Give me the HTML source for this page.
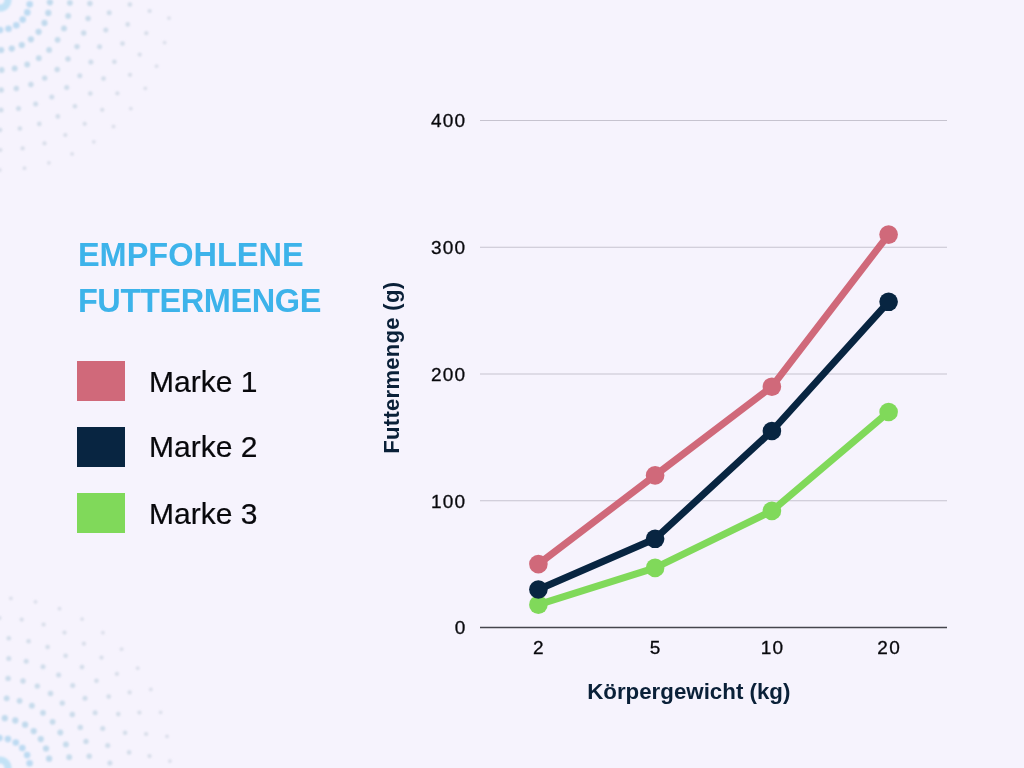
<!DOCTYPE html>
<html><head><meta charset="utf-8"><title>Empfohlene Futtermenge</title>
<style>html,body{margin:0;padding:0;background:#F6F3FD;}svg{display:block;will-change:transform;}</style></head>
<body>
<svg width="1024" height="768" viewBox="0 0 1024 768">
<rect width="1024" height="768" fill="#F6F3FD"/>
<defs><filter id="bl" x="-5%" y="-5%" width="110%" height="110%"><feGaussianBlur stdDeviation="0.85"/></filter></defs>
<g filter="url(#bl)"><circle cx="29.7" cy="4.2" r="3.3" fill="#A9D2EE" fill-opacity="0.75"/>
<circle cx="27.3" cy="12.4" r="3.3" fill="#A9D2EE" fill-opacity="0.75"/>
<circle cx="22.7" cy="19.6" r="3.3" fill="#A9D2EE" fill-opacity="0.75"/>
<circle cx="16.3" cy="25.2" r="3.3" fill="#A9D2EE" fill-opacity="0.75"/>
<circle cx="8.5" cy="28.8" r="3.3" fill="#A9D2EE" fill-opacity="0.75"/>
<circle cx="0.0" cy="30.0" r="3.3" fill="#A9D2EE" fill-opacity="0.75"/>
<circle cx="49.9" cy="2.3" r="3.1" fill="#AACFE6" fill-opacity="0.7"/>
<circle cx="48.3" cy="12.9" r="3.1" fill="#AACFE6" fill-opacity="0.7"/>
<circle cx="44.5" cy="22.9" r="3.1" fill="#AACFE6" fill-opacity="0.7"/>
<circle cx="38.6" cy="31.8" r="3.1" fill="#AACFE6" fill-opacity="0.7"/>
<circle cx="30.9" cy="39.3" r="3.1" fill="#AACFE6" fill-opacity="0.7"/>
<circle cx="21.8" cy="45.0" r="3.1" fill="#AACFE6" fill-opacity="0.7"/>
<circle cx="11.8" cy="48.6" r="3.1" fill="#AACFE6" fill-opacity="0.7"/>
<circle cx="1.1" cy="50.0" r="3.1" fill="#AACFE6" fill-opacity="0.7"/>
<circle cx="69.9" cy="2.8" r="2.9" fill="#ADCEE2" fill-opacity="0.66"/>
<circle cx="68.2" cy="15.9" r="2.9" fill="#ADCEE2" fill-opacity="0.66"/>
<circle cx="64.0" cy="28.4" r="2.9" fill="#ADCEE2" fill-opacity="0.66"/>
<circle cx="57.6" cy="39.8" r="2.9" fill="#ADCEE2" fill-opacity="0.66"/>
<circle cx="49.1" cy="49.9" r="2.9" fill="#ADCEE2" fill-opacity="0.66"/>
<circle cx="38.8" cy="58.2" r="2.9" fill="#ADCEE2" fill-opacity="0.66"/>
<circle cx="27.2" cy="64.5" r="2.9" fill="#ADCEE2" fill-opacity="0.66"/>
<circle cx="14.7" cy="68.4" r="2.9" fill="#ADCEE2" fill-opacity="0.66"/>
<circle cx="1.6" cy="70.0" r="2.9" fill="#ADCEE2" fill-opacity="0.66"/>
<circle cx="89.9" cy="3.5" r="2.7" fill="#B0CDDF" fill-opacity="0.62"/>
<circle cx="88.1" cy="18.5" r="2.7" fill="#B0CDDF" fill-opacity="0.62"/>
<circle cx="83.7" cy="33.0" r="2.7" fill="#B0CDDF" fill-opacity="0.62"/>
<circle cx="77.0" cy="46.6" r="2.7" fill="#B0CDDF" fill-opacity="0.62"/>
<circle cx="68.0" cy="58.9" r="2.7" fill="#B0CDDF" fill-opacity="0.62"/>
<circle cx="57.2" cy="69.5" r="2.7" fill="#B0CDDF" fill-opacity="0.62"/>
<circle cx="44.7" cy="78.1" r="2.7" fill="#B0CDDF" fill-opacity="0.62"/>
<circle cx="30.9" cy="84.5" r="2.7" fill="#B0CDDF" fill-opacity="0.62"/>
<circle cx="16.3" cy="88.5" r="2.7" fill="#B0CDDF" fill-opacity="0.62"/>
<circle cx="1.2" cy="90.0" r="2.7" fill="#B0CDDF" fill-opacity="0.62"/>
<circle cx="109.2" cy="12.8" r="2.5" fill="#B3CCDC" fill-opacity="0.58"/>
<circle cx="105.8" cy="30.1" r="2.5" fill="#B3CCDC" fill-opacity="0.58"/>
<circle cx="99.6" cy="46.7" r="2.5" fill="#B3CCDC" fill-opacity="0.58"/>
<circle cx="90.9" cy="62.0" r="2.5" fill="#B3CCDC" fill-opacity="0.58"/>
<circle cx="79.8" cy="75.7" r="2.5" fill="#B3CCDC" fill-opacity="0.58"/>
<circle cx="66.7" cy="87.5" r="2.5" fill="#B3CCDC" fill-opacity="0.58"/>
<circle cx="51.8" cy="97.0" r="2.5" fill="#B3CCDC" fill-opacity="0.58"/>
<circle cx="35.6" cy="104.1" r="2.5" fill="#B3CCDC" fill-opacity="0.58"/>
<circle cx="18.5" cy="108.4" r="2.5" fill="#B3CCDC" fill-opacity="0.58"/>
<circle cx="1.0" cy="110.0" r="2.5" fill="#B3CCDC" fill-opacity="0.58"/>
<circle cx="129.9" cy="4.5" r="2.3" fill="#B6CAD8" fill-opacity="0.54"/>
<circle cx="127.7" cy="24.4" r="2.3" fill="#B6CAD8" fill-opacity="0.54"/>
<circle cx="122.5" cy="43.6" r="2.3" fill="#B6CAD8" fill-opacity="0.54"/>
<circle cx="114.4" cy="61.8" r="2.3" fill="#B6CAD8" fill-opacity="0.54"/>
<circle cx="103.5" cy="78.6" r="2.3" fill="#B6CAD8" fill-opacity="0.54"/>
<circle cx="90.3" cy="93.5" r="2.3" fill="#B6CAD8" fill-opacity="0.54"/>
<circle cx="74.9" cy="106.2" r="2.3" fill="#B6CAD8" fill-opacity="0.54"/>
<circle cx="57.8" cy="116.4" r="2.3" fill="#B6CAD8" fill-opacity="0.54"/>
<circle cx="39.3" cy="123.9" r="2.3" fill="#B6CAD8" fill-opacity="0.54"/>
<circle cx="19.9" cy="128.5" r="2.3" fill="#B6CAD8" fill-opacity="0.54"/>
<circle cx="0.0" cy="130.0" r="2.3" fill="#B6CAD8" fill-opacity="0.54"/>
<circle cx="149.6" cy="11.0" r="2.1" fill="#B9C8D5" fill-opacity="0.5"/>
<circle cx="146.3" cy="33.2" r="2.1" fill="#B9C8D5" fill-opacity="0.5"/>
<circle cx="139.7" cy="54.6" r="2.1" fill="#B9C8D5" fill-opacity="0.5"/>
<circle cx="130.0" cy="74.8" r="2.1" fill="#B9C8D5" fill-opacity="0.5"/>
<circle cx="117.4" cy="93.3" r="2.1" fill="#B9C8D5" fill-opacity="0.5"/>
<circle cx="102.2" cy="109.8" r="2.1" fill="#B9C8D5" fill-opacity="0.5"/>
<circle cx="84.7" cy="123.8" r="2.1" fill="#B9C8D5" fill-opacity="0.5"/>
<circle cx="65.3" cy="135.0" r="2.1" fill="#B9C8D5" fill-opacity="0.5"/>
<circle cx="44.5" cy="143.3" r="2.1" fill="#B9C8D5" fill-opacity="0.5"/>
<circle cx="22.6" cy="148.3" r="2.1" fill="#B9C8D5" fill-opacity="0.5"/>
<circle cx="0.3" cy="150.0" r="2.1" fill="#B9C8D5" fill-opacity="0.5"/>
<circle cx="169.0" cy="18.1" r="1.9" fill="#BCC6D3" fill-opacity="0.46"/>
<circle cx="164.6" cy="42.6" r="1.9" fill="#BCC6D3" fill-opacity="0.46"/>
<circle cx="156.6" cy="66.2" r="1.9" fill="#BCC6D3" fill-opacity="0.46"/>
<circle cx="145.3" cy="88.3" r="1.9" fill="#BCC6D3" fill-opacity="0.46"/>
<circle cx="130.8" cy="108.6" r="1.9" fill="#BCC6D3" fill-opacity="0.46"/>
<circle cx="113.5" cy="126.5" r="1.9" fill="#BCC6D3" fill-opacity="0.46"/>
<circle cx="93.8" cy="141.8" r="1.9" fill="#BCC6D3" fill-opacity="0.46"/>
<circle cx="72.1" cy="153.9" r="1.9" fill="#BCC6D3" fill-opacity="0.46"/>
<circle cx="48.9" cy="162.8" r="1.9" fill="#BCC6D3" fill-opacity="0.46"/>
<circle cx="24.5" cy="168.2" r="1.9" fill="#BCC6D3" fill-opacity="0.46"/>
<circle cx="-0.3" cy="170.0" r="1.9" fill="#BCC6D3" fill-opacity="0.46"/>
<circle cx="0" cy="0" r="8" fill="none" stroke="#C3E2F6" stroke-width="7"/></g>
<g filter="url(#bl)"><circle cx="29.6" cy="763.3" r="3.3" fill="#A9D2EE" fill-opacity="0.75"/>
<circle cx="27.1" cy="755.1" r="3.3" fill="#A9D2EE" fill-opacity="0.75"/>
<circle cx="22.3" cy="748.0" r="3.3" fill="#A9D2EE" fill-opacity="0.75"/>
<circle cx="15.8" cy="742.5" r="3.3" fill="#A9D2EE" fill-opacity="0.75"/>
<circle cx="7.9" cy="739.1" r="3.3" fill="#A9D2EE" fill-opacity="0.75"/>
<circle cx="-0.6" cy="738.0" r="3.3" fill="#A9D2EE" fill-opacity="0.75"/>
<circle cx="49.1" cy="758.7" r="3.1" fill="#AACFE6" fill-opacity="0.7"/>
<circle cx="46.0" cy="748.5" r="3.1" fill="#AACFE6" fill-opacity="0.7"/>
<circle cx="40.8" cy="739.1" r="3.1" fill="#AACFE6" fill-opacity="0.7"/>
<circle cx="33.7" cy="731.1" r="3.1" fill="#AACFE6" fill-opacity="0.7"/>
<circle cx="25.1" cy="724.7" r="3.1" fill="#AACFE6" fill-opacity="0.7"/>
<circle cx="15.3" cy="720.4" r="3.1" fill="#AACFE6" fill-opacity="0.7"/>
<circle cx="4.8" cy="718.2" r="3.1" fill="#AACFE6" fill-opacity="0.7"/>
<circle cx="69.2" cy="757.2" r="2.9" fill="#ADCEE2" fill-opacity="0.66"/>
<circle cx="65.9" cy="744.4" r="2.9" fill="#ADCEE2" fill-opacity="0.66"/>
<circle cx="60.3" cy="732.5" r="2.9" fill="#ADCEE2" fill-opacity="0.66"/>
<circle cx="52.6" cy="721.8" r="2.9" fill="#ADCEE2" fill-opacity="0.66"/>
<circle cx="43.0" cy="712.8" r="2.9" fill="#ADCEE2" fill-opacity="0.66"/>
<circle cx="31.9" cy="705.7" r="2.9" fill="#ADCEE2" fill-opacity="0.66"/>
<circle cx="19.6" cy="700.8" r="2.9" fill="#ADCEE2" fill-opacity="0.66"/>
<circle cx="6.7" cy="698.3" r="2.9" fill="#ADCEE2" fill-opacity="0.66"/>
<circle cx="89.2" cy="756.3" r="2.7" fill="#B0CDDF" fill-opacity="0.62"/>
<circle cx="86.0" cy="741.4" r="2.7" fill="#B0CDDF" fill-opacity="0.62"/>
<circle cx="80.3" cy="727.4" r="2.7" fill="#B0CDDF" fill-opacity="0.62"/>
<circle cx="72.3" cy="714.5" r="2.7" fill="#B0CDDF" fill-opacity="0.62"/>
<circle cx="62.3" cy="703.1" r="2.7" fill="#B0CDDF" fill-opacity="0.62"/>
<circle cx="50.5" cy="693.5" r="2.7" fill="#B0CDDF" fill-opacity="0.62"/>
<circle cx="37.3" cy="686.1" r="2.7" fill="#B0CDDF" fill-opacity="0.62"/>
<circle cx="23.0" cy="681.0" r="2.7" fill="#B0CDDF" fill-opacity="0.62"/>
<circle cx="8.1" cy="678.4" r="2.7" fill="#B0CDDF" fill-opacity="0.62"/>
<circle cx="109.9" cy="763.0" r="2.5" fill="#B3CCDC" fill-opacity="0.58"/>
<circle cx="107.7" cy="745.5" r="2.5" fill="#B3CCDC" fill-opacity="0.58"/>
<circle cx="102.7" cy="728.6" r="2.5" fill="#B3CCDC" fill-opacity="0.58"/>
<circle cx="95.1" cy="712.7" r="2.5" fill="#B3CCDC" fill-opacity="0.58"/>
<circle cx="85.0" cy="698.2" r="2.5" fill="#B3CCDC" fill-opacity="0.58"/>
<circle cx="72.7" cy="685.5" r="2.5" fill="#B3CCDC" fill-opacity="0.58"/>
<circle cx="58.6" cy="674.9" r="2.5" fill="#B3CCDC" fill-opacity="0.58"/>
<circle cx="43.0" cy="666.7" r="2.5" fill="#B3CCDC" fill-opacity="0.58"/>
<circle cx="26.2" cy="661.2" r="2.5" fill="#B3CCDC" fill-opacity="0.58"/>
<circle cx="8.8" cy="658.4" r="2.5" fill="#B3CCDC" fill-opacity="0.58"/>
<circle cx="129.1" cy="752.4" r="2.3" fill="#B6CAD8" fill-opacity="0.54"/>
<circle cx="125.1" cy="732.8" r="2.3" fill="#B6CAD8" fill-opacity="0.54"/>
<circle cx="118.3" cy="714.1" r="2.3" fill="#B6CAD8" fill-opacity="0.54"/>
<circle cx="108.7" cy="696.6" r="2.3" fill="#B6CAD8" fill-opacity="0.54"/>
<circle cx="96.5" cy="680.8" r="2.3" fill="#B6CAD8" fill-opacity="0.54"/>
<circle cx="82.0" cy="667.1" r="2.3" fill="#B6CAD8" fill-opacity="0.54"/>
<circle cx="65.6" cy="655.8" r="2.3" fill="#B6CAD8" fill-opacity="0.54"/>
<circle cx="47.6" cy="647.0" r="2.3" fill="#B6CAD8" fill-opacity="0.54"/>
<circle cx="28.6" cy="641.2" r="2.3" fill="#B6CAD8" fill-opacity="0.54"/>
<circle cx="8.8" cy="638.3" r="2.3" fill="#B6CAD8" fill-opacity="0.54"/>
<circle cx="149.5" cy="756.1" r="2.1" fill="#B9C8D5" fill-opacity="0.5"/>
<circle cx="146.1" cy="734.0" r="2.1" fill="#B9C8D5" fill-opacity="0.5"/>
<circle cx="139.4" cy="712.6" r="2.1" fill="#B9C8D5" fill-opacity="0.5"/>
<circle cx="129.6" cy="692.4" r="2.1" fill="#B9C8D5" fill-opacity="0.5"/>
<circle cx="116.9" cy="673.9" r="2.1" fill="#B9C8D5" fill-opacity="0.5"/>
<circle cx="101.5" cy="657.6" r="2.1" fill="#B9C8D5" fill-opacity="0.5"/>
<circle cx="83.9" cy="643.7" r="2.1" fill="#B9C8D5" fill-opacity="0.5"/>
<circle cx="64.5" cy="632.6" r="2.1" fill="#B9C8D5" fill-opacity="0.5"/>
<circle cx="43.6" cy="624.5" r="2.1" fill="#B9C8D5" fill-opacity="0.5"/>
<circle cx="21.7" cy="619.6" r="2.1" fill="#B9C8D5" fill-opacity="0.5"/>
<circle cx="-0.7" cy="618.0" r="2.1" fill="#B9C8D5" fill-opacity="0.5"/>
<circle cx="169.9" cy="761.1" r="1.9" fill="#BCC6D3" fill-opacity="0.46"/>
<circle cx="167.0" cy="736.3" r="1.9" fill="#BCC6D3" fill-opacity="0.46"/>
<circle cx="160.6" cy="712.3" r="1.9" fill="#BCC6D3" fill-opacity="0.46"/>
<circle cx="150.8" cy="689.4" r="1.9" fill="#BCC6D3" fill-opacity="0.46"/>
<circle cx="137.7" cy="668.2" r="1.9" fill="#BCC6D3" fill-opacity="0.46"/>
<circle cx="121.6" cy="649.2" r="1.9" fill="#BCC6D3" fill-opacity="0.46"/>
<circle cx="102.9" cy="632.7" r="1.9" fill="#BCC6D3" fill-opacity="0.46"/>
<circle cx="82.1" cy="619.1" r="1.9" fill="#BCC6D3" fill-opacity="0.46"/>
<circle cx="59.5" cy="608.7" r="1.9" fill="#BCC6D3" fill-opacity="0.46"/>
<circle cx="35.5" cy="601.8" r="1.9" fill="#BCC6D3" fill-opacity="0.46"/>
<circle cx="10.9" cy="598.3" r="1.9" fill="#BCC6D3" fill-opacity="0.46"/>
<circle cx="0" cy="768" r="8" fill="none" stroke="#C3E2F6" stroke-width="7"/></g>
<text x="77.9" y="265.8" font-family="Liberation Sans, sans-serif" font-weight="700" font-size="32.5" fill="#3DB3EA">EMPFOHLENE</text>
<text x="77.9" y="311.5" font-family="Liberation Sans, sans-serif" font-weight="700" font-size="32.5" letter-spacing="-0.38" fill="#3DB3EA">FUTTERMENGE</text>
<rect x="77" y="361" width="48" height="40" fill="#D0697A"/>
<text x="149.1" y="391.7" font-family="Liberation Sans, sans-serif" font-size="30" fill="#08080C" stroke="#08080C" stroke-width="0.2">Marke 1</text>
<rect x="77" y="427" width="48" height="40" fill="#082541"/>
<text x="149.1" y="457" font-family="Liberation Sans, sans-serif" font-size="30" fill="#08080C" stroke="#08080C" stroke-width="0.2">Marke 2</text>
<rect x="77" y="493" width="48" height="40" fill="#80D95A"/>
<text x="149.1" y="523.8" font-family="Liberation Sans, sans-serif" font-size="30" fill="#08080C" stroke="#08080C" stroke-width="0.2">Marke 3</text>
<line x1="480" y1="500.75" x2="947" y2="500.75" stroke="#C6C3CF" stroke-width="1"/>
<line x1="480" y1="374.0" x2="947" y2="374.0" stroke="#C6C3CF" stroke-width="1"/>
<line x1="480" y1="247.25" x2="947" y2="247.25" stroke="#C6C3CF" stroke-width="1"/>
<line x1="480" y1="120.5" x2="947" y2="120.5" stroke="#C6C3CF" stroke-width="1"/>
<line x1="480" y1="627.5" x2="947" y2="627.5" stroke="#45454D" stroke-width="1.3"/>
<text x="466.5" y="634.3" text-anchor="end" font-family="Liberation Sans, sans-serif" font-size="19" letter-spacing="1.3" fill="#08080C" stroke="#08080C" stroke-width="0.3">0</text>
<text x="466.5" y="507.55" text-anchor="end" font-family="Liberation Sans, sans-serif" font-size="19" letter-spacing="1.3" fill="#08080C" stroke="#08080C" stroke-width="0.3">100</text>
<text x="466.5" y="380.8" text-anchor="end" font-family="Liberation Sans, sans-serif" font-size="19" letter-spacing="1.3" fill="#08080C" stroke="#08080C" stroke-width="0.3">200</text>
<text x="466.5" y="254.05" text-anchor="end" font-family="Liberation Sans, sans-serif" font-size="19" letter-spacing="1.3" fill="#08080C" stroke="#08080C" stroke-width="0.3">300</text>
<text x="466.5" y="127.3" text-anchor="end" font-family="Liberation Sans, sans-serif" font-size="19" letter-spacing="1.3" fill="#08080C" stroke="#08080C" stroke-width="0.3">400</text>
<text x="539.0" y="654.2" text-anchor="middle" font-family="Liberation Sans, sans-serif" font-size="19" letter-spacing="1.3" fill="#08080C" stroke="#08080C" stroke-width="0.3">2</text>
<text x="655.7" y="654.2" text-anchor="middle" font-family="Liberation Sans, sans-serif" font-size="19" letter-spacing="1.3" fill="#08080C" stroke="#08080C" stroke-width="0.3">5</text>
<text x="772.5" y="654.2" text-anchor="middle" font-family="Liberation Sans, sans-serif" font-size="19" letter-spacing="1.3" fill="#08080C" stroke="#08080C" stroke-width="0.3">10</text>
<text x="889.2" y="654.2" text-anchor="middle" font-family="Liberation Sans, sans-serif" font-size="19" letter-spacing="1.3" fill="#08080C" stroke="#08080C" stroke-width="0.3">20</text>
<text x="688.8" y="699" text-anchor="middle" font-family="Liberation Sans, sans-serif" font-weight="700" font-size="22.3" fill="#0A2038">Körpergewicht (kg)</text>
<text transform="translate(398.8,367.7) rotate(-90)" x="0" y="0" text-anchor="middle" font-family="Liberation Sans, sans-serif" font-weight="700" font-size="22" letter-spacing="0.3" fill="#0A2038">Futtermenge (g)</text>
<polyline points="538.4,564.1 655.1,475.4 771.9,386.7 888.6,234.6" fill="none" stroke="#D0697A" stroke-width="7" stroke-linejoin="round"/>
<circle cx="538.4" cy="564.1" r="9.3" fill="#D0697A"/>
<circle cx="655.1" cy="475.4" r="9.3" fill="#D0697A"/>
<circle cx="771.9" cy="386.7" r="9.3" fill="#D0697A"/>
<circle cx="888.6" cy="234.6" r="9.3" fill="#D0697A"/>
<polyline points="538.4,604.7 655.1,567.9 771.9,510.9 888.6,412.0" fill="none" stroke="#80D95A" stroke-width="7" stroke-linejoin="round"/>
<circle cx="538.4" cy="604.7" r="9.3" fill="#80D95A"/>
<circle cx="655.1" cy="567.9" r="9.3" fill="#80D95A"/>
<circle cx="771.9" cy="510.9" r="9.3" fill="#80D95A"/>
<circle cx="888.6" cy="412.0" r="9.3" fill="#80D95A"/>
<polyline points="538.4,589.5 655.1,538.8 771.9,431.0 888.6,301.8" fill="none" stroke="#082541" stroke-width="7" stroke-linejoin="round"/>
<circle cx="538.4" cy="589.5" r="9.3" fill="#082541"/>
<circle cx="655.1" cy="538.8" r="9.3" fill="#082541"/>
<circle cx="771.9" cy="431.0" r="9.3" fill="#082541"/>
<circle cx="888.6" cy="301.8" r="9.3" fill="#082541"/>
</svg>
</body></html>
